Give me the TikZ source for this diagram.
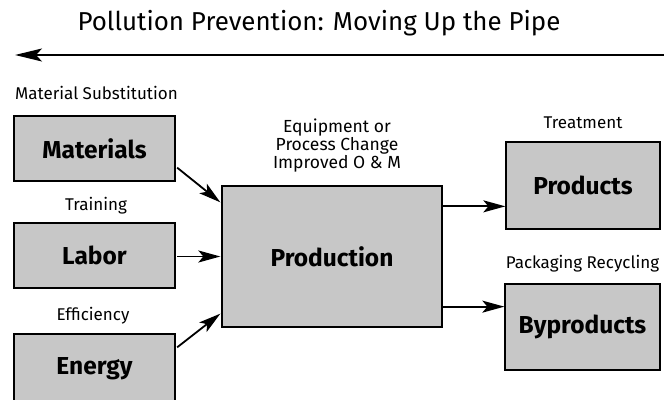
\documentclass[tikz,border=0pt]{standalone}
\usepackage{fontspec}
\setmainfont{Fira Sans}
\usetikzlibrary{arrows.meta,calc}
\begin{document}
\begin{tikzpicture}[x=1pt,y=1pt,
  box/.style={draw=black,line width=1.3pt,fill=black!22,inner sep=0pt,font=\fontsize{24.5}{28}\selectfont\bfseries},
  lbl/.style={inner sep=0pt,font=\fontsize{17}{20}\selectfont},
  conn/.style={line width=1.8pt,-{Stealth[length=22pt,width=12pt,inset=5pt]}}]
\useasboundingbox (0,0) rectangle (664,399);
\begin{scope}
\clip (0,0) rectangle (664,399);
\node[box,minimum width=161pt,minimum height=65pt] (mat) at (94.5,250.5) {Materials};
\node[box,minimum width=161pt,minimum height=65pt] (lab) at (94.5,143.5) {Labor};
\node[box,minimum width=161pt,minimum height=85pt] (ene) at (94.5,22.5) {};
\node[box,draw=none,fill=none] (enelbl) at (94.5,30) {Energy};
\node[box,minimum width=220pt,minimum height=141pt] (prod) at (332,142.5) {Production};
\node[box,minimum width=154pt,minimum height=87pt] (pro) at (583,213.5) {Products};
\node[box,minimum width=155pt,minimum height=86pt] (byp) at (582.5,72) {Byproducts};
\end{scope}
\node[inner sep=0pt,anchor=base,font=\fontsize{25.9}{30}\selectfont] (title) at (319,368) {Pollution Prevention: Moving Up the Pipe};
\coordinate (topR) at (664,344);
\coordinate (topL) at (15,344);
\draw[line width=1.8pt,-{Stealth[length=27pt,width=13pt,inset=6pt]}] (topR) -- (topL);
\node[lbl,anchor=west] (ms) at (15,306) {Material Substitution};
\node[lbl] (tr) at (96,193) {Training};
\node[lbl] (ef) at (93,83) {Efficiency};
\node[lbl,align=center,font=\fontsize{17.5}{18}\selectfont] (eq) at (337,253) {Equipment or\\Process Change\\Improved O \& M};
\node[lbl] (tm) at (583,276) {Treatment};
\node[lbl] (pr) at (582.5,135) {Packaging Recycling};
\draw[conn] ($(mat.south east)+(1.5,14)$) -- ($(prod.north west)+(-1,-17)$);
\draw[conn] ($(lab.east)+(1.5,-1)$) -- ($(prod.west)+(-1,0)$);
\draw[conn] ($(ene.north east)+(1.5,-14)$) -- ($(prod.south west)+(-1,14)$);
\coordinate (pa) at ($(prod.north east)+(0,-21)$);
\draw[conn] (pa) -- (pa -| pro.west);
\coordinate (ba) at ($(prod.south east)+(0,21)$);
\draw[conn] (ba) -- (ba -| byp.west);
\end{tikzpicture}
\end{document}
